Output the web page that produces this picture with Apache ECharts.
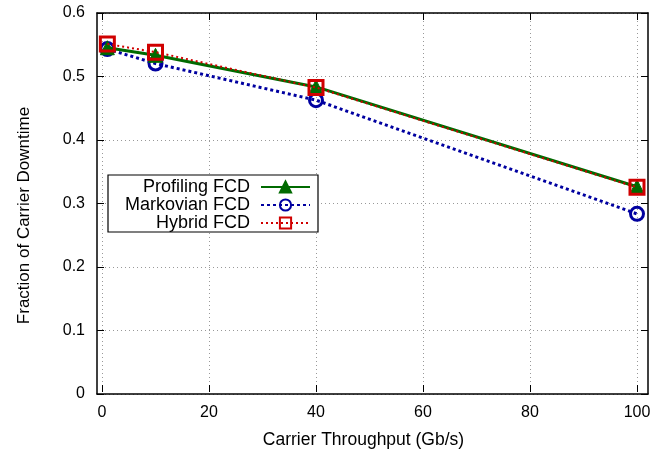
<!DOCTYPE html>
<html><head><meta charset="utf-8">
<script src="https://cdn.jsdelivr.net/npm/echarts@6/dist/echarts.min.js"></script>
<style>html,body{margin:0;padding:0;background:#fff}#c{width:667px;height:454px}</style>
</head><body><div id="c"></div>
<script>
const xValues = [1, 10, 40, 100];
const profiling = [0.545, 0.533, 0.483, 0.325];
const markovian = [0.543, 0.520, 0.462, 0.282];
const hybrid = [0.551, 0.538, 0.482, 0.324];
const seriesNames = ['Profiling FCD', 'Markovian FCD', 'Hybrid FCD'];

const pair = (ys) => xValues.map((x, i) => [x, ys[i]]);
const font = 'Liberation Sans, Arial, sans-serif';
const chart = echarts.init(document.getElementById('c'));
const gridLine = {show: true, lineStyle: {color: '#999', type: [1, 3], width: 1}};
const tick = {show: true, inside: true, length: 7, lineStyle: {color: '#000', width: 1}};
const frameLine = {show: true, onZero: false, lineStyle: {color: '#000', width: 1.5}};
chart.setOption({
  animation: false,
  grid: [
    {left: 102, right: 30, top: 13, bottom: 60},
    {left: 97, right: 19, top: 13, bottom: 60}
  ],
  xAxis: [{
    gridIndex: 0, type: 'value', min: 0, max: 100, interval: 20,
    axisLine: {show: false},
    axisTick: tick,
    axisLabel: {color: '#000', fontSize: 16, fontFamily: font, margin: 13},
    splitLine: gridLine,
    name: 'Carrier Throughput (Gb/s)', nameLocation: 'middle', nameGap: 39,
    nameTextStyle: {color: '#000', fontSize: 17.5, fontFamily: font, padding: [0, 12, 0, 0]}
  }, {
    gridIndex: 0, type: 'value', min: 0, max: 100, interval: 20, position: 'top',
    axisLine: {show: false}, axisTick: tick,
    axisLabel: {show: false}, splitLine: {show: false}
  }, {
    gridIndex: 1, type: 'value', min: 0, max: 1, position: 'bottom',
    axisLine: frameLine, axisTick: {show: false},
    axisLabel: {show: false}, splitLine: {show: false}
  }, {
    gridIndex: 1, type: 'value', min: 0, max: 1, position: 'top',
    axisLine: frameLine, axisTick: {show: false},
    axisLabel: {show: false}, splitLine: {show: false}
  }],
  yAxis: [{
    gridIndex: 1, type: 'value', min: 0, max: 0.6, interval: 0.1,
    axisLine: frameLine,
    axisTick: tick,
    axisLabel: {color: '#000', fontSize: 16, fontFamily: font, margin: 12,
      formatter: v => v === 0 ? '0' : v.toFixed(1)},
    splitLine: gridLine,
    name: 'Fraction of Carrier Downtime', nameLocation: 'middle', nameGap: 64,
    nameTextStyle: {color: '#000', fontSize: 17, fontFamily: font, padding: [0, 24, 0, 0]}
  }, {
    gridIndex: 1, type: 'value', min: 0, max: 0.6, interval: 0.1, position: 'right',
    axisLine: frameLine, axisTick: tick,
    axisLabel: {show: false}, splitLine: {show: false}
  }, {
    gridIndex: 0, type: 'value', min: 0, max: 0.6, interval: 0.1,
    show: false
  }],
  legend: {
    orient: 'vertical', left: 108, top: 175, align: 'right',
    itemGap: 0, itemWidth: 49, itemHeight: 14,
    padding: [3, 7, 0, 12],
    borderColor: '#000', borderWidth: 1.2, backgroundColor: '#fff',
    textStyle: {color: '#000', fontSize: 18, fontFamily: font, width: 130, align: 'right',
      lineHeight: 18, padding: [0, 6, 0, 0]},
    data: seriesNames
  },
  series: [{
    name: seriesNames[0], type: 'line', data: pair(profiling), xAxisIndex: 0, yAxisIndex: 2,
    symbol: 'triangle', symbolSize: 14,
    lineStyle: {color: '#006a00', width: 3, type: 'solid'},
    itemStyle: {color: '#006a00', borderColor: '#006a00', borderWidth: 1}, z: 3
  }, {
    name: seriesNames[1], type: 'line', data: pair(markovian), xAxisIndex: 0, yAxisIndex: 2,
    symbol: 'circle', symbolSize: 13,
    lineStyle: {color: '#0000a0', width: 3, type: [3, 3]},
    itemStyle: {color: 'rgba(255,255,255,0)', borderColor: '#0000a0', borderWidth: 3}, z: 2
  }, {
    name: seriesNames[2], type: 'line', data: pair(hybrid), xAxisIndex: 0, yAxisIndex: 2,
    symbol: 'rect', symbolSize: 14,
    lineStyle: {color: '#d00000', width: 2, type: [2, 3]},
    itemStyle: {color: 'rgba(255,255,255,0)', borderColor: '#d00000', borderWidth: 3}, z: 4
  }]
});
</script></body></html>
